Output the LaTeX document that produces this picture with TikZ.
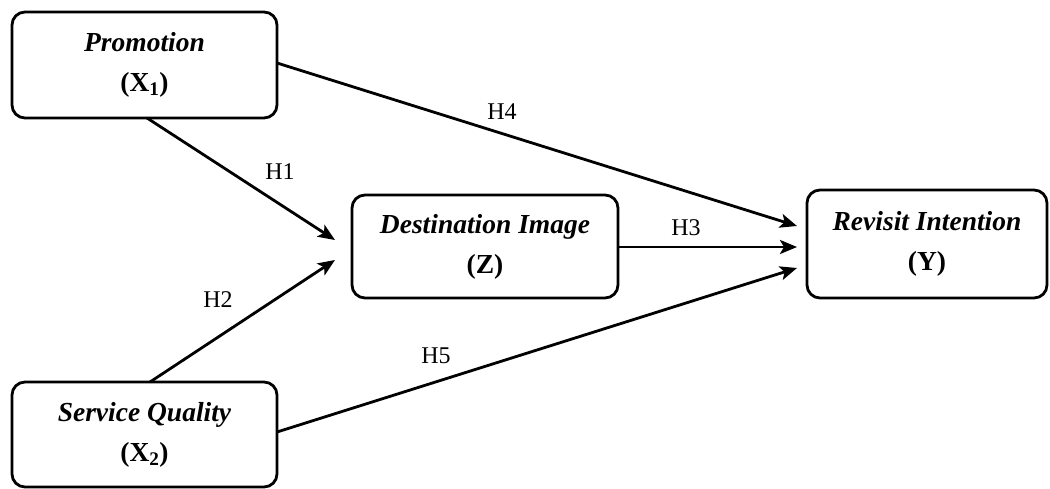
\documentclass[tikz,border=0pt]{standalone}
\usepackage{fontspec}
\setmainfont{Liberation Serif}
\usetikzlibrary{arrows.meta}
\begin{document}
\begin{tikzpicture}[x=1pt,y=-1pt,
  box/.style={draw,line width=2.8pt,rounded corners=13pt,align=center,inner sep=0pt,
    font=\fontsize{27.5}{40}\selectfont\bfseries},
  conn/.style={line width=2.8pt,-{Stealth[length=17pt,width=14pt,inset=4pt]}},
  lab/.style={font=\fontsize{24}{26}\selectfont}]
\useasboundingbox (0,0) rectangle (1050,489);
\node[box,minimum width=265pt,minimum height=106pt] (p) at (144.5,65)
  {\textit{Promotion}\\(X\textsubscript{1})};
\node[box,minimum width=265pt,minimum height=105pt] (s) at (144.5,434.5)
  {\textit{Service Quality}\\(X\textsubscript{2})};
\node[box,minimum width=266pt,minimum height=103pt] (d) at (485,246.5)
  {\textit{Destination Image}\\(Z)};
\node[box,minimum width=240pt,minimum height=108pt] (y) at (927,244)
  {\textit{Revisit Intention}\\(Y)};
\coordinate (pb) at (147,118);
\coordinate (pr) at (277,63);
\coordinate (sb) at (150,382);
\coordinate (sr) at (277,432);
\coordinate (dl1) at (335,240);
\coordinate (dl2) at (335,260);
\coordinate (yl1) at (797,226);
\coordinate (yl2) at (797,247);
\coordinate (yl3) at (797,268);
\draw[conn] (pb) -- (dl1);
\draw[conn] (sb) -- (dl2);
\draw[conn] (pr) -- (yl1);
\draw[conn] (sr) -- (yl3);
\draw[conn] (d.east |- yl2) -- (yl2);
\node[lab] (h1) at (280,172) {H1};
\node[lab] (h2) at (218,300) {H2};
\node[lab] (h3) at (686,228) {H3};
\node[lab] (h4) at (502,112) {H4};
\node[lab] (h5) at (436,356) {H5};
\end{tikzpicture}
\end{document}
